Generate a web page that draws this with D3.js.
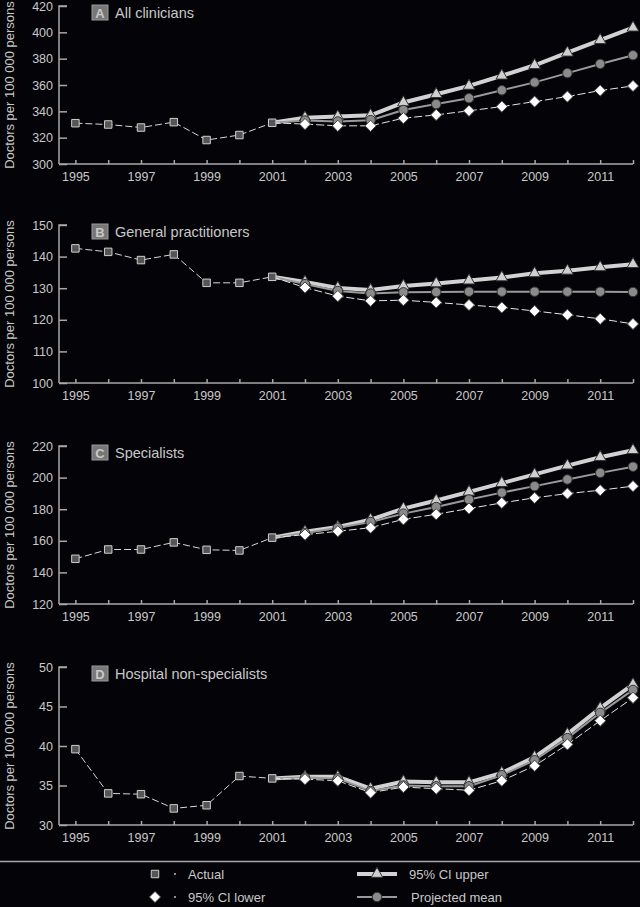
<!DOCTYPE html>
<html>
<head>
<meta charset="utf-8">
<title>Doctors per 100 000 persons</title>
<script src="https://cdn.jsdelivr.net/npm/d3@7"></script>
<style>
    html, body { margin: 0; padding: 0; background: #040307; }
    svg { display: block; }
    text { font-family: "Liberation Sans", Arial, sans-serif; fill: #c8c8c8; }
</style>
</head>
<body>
<script>
// ---- data ----
var actualYears = [1995, 1996, 1997, 1998, 1999, 2000, 2001];
var projYears = [2001, 2002, 2003, 2004, 2005, 2006, 2007, 2008, 2009, 2010, 2011, 2012];
var yearLabels = [1995, 1997, 1999, 2001, 2003, 2005, 2007, 2009, 2011];

var panelLetters = ["A", "B", "C", "D"];
var panelTitles = ["All clinicians", "General practitioners", "Specialists", "Hospital non-specialists"];
var yDomains = [[300, 420], [100, 150], [120, 220], [30, 50]];
var yTicks = [
    [300, 320, 340, 360, 380, 400, 420],
    [100, 110, 120, 130, 140, 150],
    [120, 140, 160, 180, 200, 220],
    [30, 35, 40, 45, 50]
];

var actualA = [331, 330, 327.7, 331.8, 318.2, 322, 331.3];
var upperA = [331.3, 335.2, 336, 337, 346.7, 353, 359.3, 367, 375, 384.5, 394, 403.5];
var meanA = [331.3, 333, 332.3, 333.3, 341, 345.5, 350, 356, 362, 369, 376, 382.6];
var lowerA = [331.3, 330.3, 329, 329, 334.8, 337.3, 340.4, 343.6, 347.4, 351.2, 355.8, 359.3];

var actualB = [142.6, 141.5, 138.9, 140.7, 131.7, 131.7, 133.6];
var upperB = [133.6, 132, 130.1, 129.4, 130.7, 131.5, 132.4, 133.4, 134.7, 135.5, 136.6, 137.6];
var meanB = [133.6, 131.3, 129.1, 128.3, 128.7, 128.8, 128.9, 128.9, 128.9, 128.9, 128.9, 128.8];
var lowerB = [133.6, 130.2, 127.5, 126, 126.2, 125.5, 124.7, 123.9, 122.8, 121.6, 120.3, 118.7];

var actualC = [148.6, 154.5, 154.5, 159, 154.3, 153.9, 162];
var upperC = [162, 165.8, 168.8, 173.4, 180.4, 185.5, 191, 196.5, 202, 207.6, 212.9, 217.3];
var meanC = [162, 165, 168.3, 171.9, 177.2, 181.4, 186.1, 190.5, 194.6, 198.8, 203, 206.9];
var lowerC = [162, 163.9, 166, 168.3, 173.6, 176.8, 180.4, 184, 187.2, 189.9, 192, 194.6];

var actualD = [39.6, 34, 33.9, 32.1, 32.5, 36.2, 35.9];
var upperD = [35.9, 36.1, 36.1, 34.6, 35.5, 35.4, 35.4, 36.6, 38.6, 41.5, 44.8, 47.8];
var meanD = [35.9, 36, 35.9, 34.3, 35, 34.9, 34.9, 36.3, 38.2, 41, 44.2, 47.1];
var lowerD = [35.9, 35.8, 35.6, 34.1, 34.8, 34.6, 34.4, 35.6, 37.5, 40.2, 43.2, 46.1];

var actualSeries = [actualA, actualB, actualC, actualD];
var upperSeries = [upperA, upperB, upperC, upperD];
var meanSeries = [meanA, meanB, meanC, meanD];
var lowerSeries = [lowerA, lowerB, lowerC, lowerD];

// ---- layout ----
var width = 640, height = 907;
var xLeft = 59, xRight = 633;
var panelTops = [6, 225, 446, 667];
var panelHeight = 158;

var svg = d3.select("body").append("svg")
    .attr("width", width)
    .attr("height", height);

svg.append("rect").attr("width", width).attr("height", height).attr("fill", "#040307");

var x = d3.scaleLinear().domain([1994.5, 2012]).range([xLeft, xRight]);

var symTriangle = d3.symbol().type(d3.symbolTriangle).size(58);
var symCircle = d3.symbol().type(d3.symbolCircle).size(70);
var symDiamond = d3.symbol().type(d3.symbolDiamond2).size(80);
var symSquare = d3.symbol().type(d3.symbolSquare).size(56);

function pairs(years, values) {
    return years.map(function (yr, i) { return {x: yr, y: values[i]}; });
}

function drawMarkers(g, data, sym, fill, stroke, xs, ys) {
    g.selectAll(null)
        .data(data)
        .enter().append("path")
        .attr("d", sym)
        .attr("transform", function (d) { return "translate(" + xs(d.x) + "," + ys(d.y) + ")"; })
        .attr("fill", fill)
        .attr("stroke", stroke)
        .attr("stroke-width", 1);
}

function renderPanel(p) {
    var top = panelTops[p];
    var bottom = top + panelHeight;
    var y = d3.scaleLinear().domain(yDomains[p]).range([bottom, top]);
    var g = svg.append("g").attr("class", "panel");

    // y axis, ticks pointing inwards
    var yAxis = d3.axisRight(y).tickValues(yTicks[p]).tickSize(8).tickFormat(d3.format("d"));
    var ya = g.append("g").attr("transform", "translate(" + xLeft + ",0)").call(yAxis);
    ya.select(".domain").attr("stroke", "#a8a8a8").attr("stroke-width", 1.5).attr("d", "M8," + top + "H0V" + bottom);
    ya.selectAll(".tick line").attr("stroke", "#a8a8a8").attr("stroke-width", 1.5);
    ya.selectAll(".tick text")
        .attr("x", -6).attr("text-anchor", "end")
        .style("font-size", "12.5px").attr("fill", "#c8c8c8");

    // x axis, short ticks upward on every year
    var xAxis = d3.axisBottom(x).tickValues(d3.range(1995, 2013)).tickSize(0)
        .tickFormat(function (d) { return yearLabels.indexOf(d) >= 0 ? d : ""; });
    var xa = g.append("g").attr("transform", "translate(0," + bottom + ")").call(xAxis);
    xa.select(".domain").attr("stroke", "#a8a8a8").attr("stroke-width", 1.5).attr("d", "M" + xLeft + ",0H" + xRight);
    xa.selectAll(".tick line").attr("y2", -4).attr("stroke", "#a8a8a8").attr("stroke-width", 1.5);
    xa.selectAll(".tick text").attr("y", 8).style("font-size", "12.5px").attr("fill", "#c8c8c8");

    // y title
    g.append("text")
        .attr("transform", "translate(14," + ((top + bottom) / 2) + ") rotate(-90)")
        .attr("text-anchor", "middle")
        .style("font-size", "13px")
        .text("Doctors per 100 000 persons");

    // panel title with letter box
    g.append("rect")
        .attr("x", 92).attr("y", top - 1).attr("width", 16).attr("height", 15)
        .attr("fill", "#777").attr("stroke", "#9a9a9a");
    g.append("text")
        .attr("x", 100).attr("y", top + 11.5).attr("text-anchor", "middle")
        .style("font-size", "13px").style("font-weight", "bold").attr("fill", "#fff")
        .text(panelLetters[p]);
    g.append("text")
        .attr("x", 115).attr("y", top + 12)
        .style("font-size", "14.5px")
        .text(panelTitles[p]);

    var line = d3.line().x(function (d) { return x(d.x); }).y(function (d) { return y(d.y); });

    var upper = pairs(projYears, upperSeries[p]);
    var mean = pairs(projYears, meanSeries[p]);
    var lower = pairs(projYears, lowerSeries[p]);
    var actual = pairs(actualYears, actualSeries[p]);

    g.append("path").attr("d", line(upper)).attr("fill", "none").attr("stroke", "#d2d2d2").attr("stroke-width", 4);
    g.append("path").attr("d", line(mean)).attr("fill", "none").attr("stroke", "#9a9a9a").attr("stroke-width", 2);
    g.append("path").attr("d", line(lower)).attr("fill", "none").attr("stroke", "#e6e6e6")
        .attr("stroke-width", 1).attr("stroke-dasharray", "8,3");
    g.append("path").attr("d", line(actual)).attr("fill", "none").attr("stroke", "#d8d8d8")
        .attr("stroke-width", 1).attr("stroke-dasharray", "7,3");

    // markers (projection markers from 2002 on)
    drawMarkers(g, upper.slice(1), symTriangle, "#cfcfcf", "#333", x, y);
    drawMarkers(g, mean.slice(1), symCircle, "#8a8a8a", "#333", x, y);
    drawMarkers(g, lower.slice(1), symDiamond, "#ffffff", "#444", x, y);
    drawMarkers(g, actual, symSquare, "#555", "#cfcfcf", x, y);
}

for (var p = 0; p < panelLetters.length; ++p) renderPanel(p);

// ---- legend ----
var lg = svg.append("g").attr("class", "legend");
lg.append("line").attr("x1", 0).attr("x2", width).attr("y1", 861.5).attr("y2", 861.5)
    .attr("stroke", "#a8a8a8").attr("stroke-width", 1.5);

function legendItem(cx, cy, sym, fill, stroke, lineStyle, label, tx) {
    if (lineStyle === "dash") {
        lg.append("circle").attr("cx", cx + 20).attr("cy", cy).attr("r", 0.9).attr("fill", "#ccc");
    } else {
        lg.append("line").attr("x1", cx - 20).attr("x2", cx + 20).attr("y1", cy).attr("y2", cy)
            .attr("stroke", lineStyle.color).attr("stroke-width", lineStyle.width);
    }
    lg.append("path").attr("d", sym).attr("transform", "translate(" + cx + "," + cy + ")")
        .attr("fill", fill).attr("stroke", stroke);
    lg.append("text").attr("x", tx).attr("y", cy + 4.5).style("font-size", "13px").text(label);
}

legendItem(155, 874, symSquare, "#555", "#cfcfcf", "dash", "Actual", 188);
legendItem(155, 897, symDiamond, "#fff", "#444", "dash", "95% CI lower", 188);
legendItem(377, 874, symTriangle, "#cfcfcf", "#333", {color: "#d2d2d2", width: 4}, "95% CI upper", 409);
legendItem(377, 897, symCircle, "#8a8a8a", "#333", {color: "#9a9a9a", width: 2}, "Projected mean", 411);
</script>
</body>
</html>
